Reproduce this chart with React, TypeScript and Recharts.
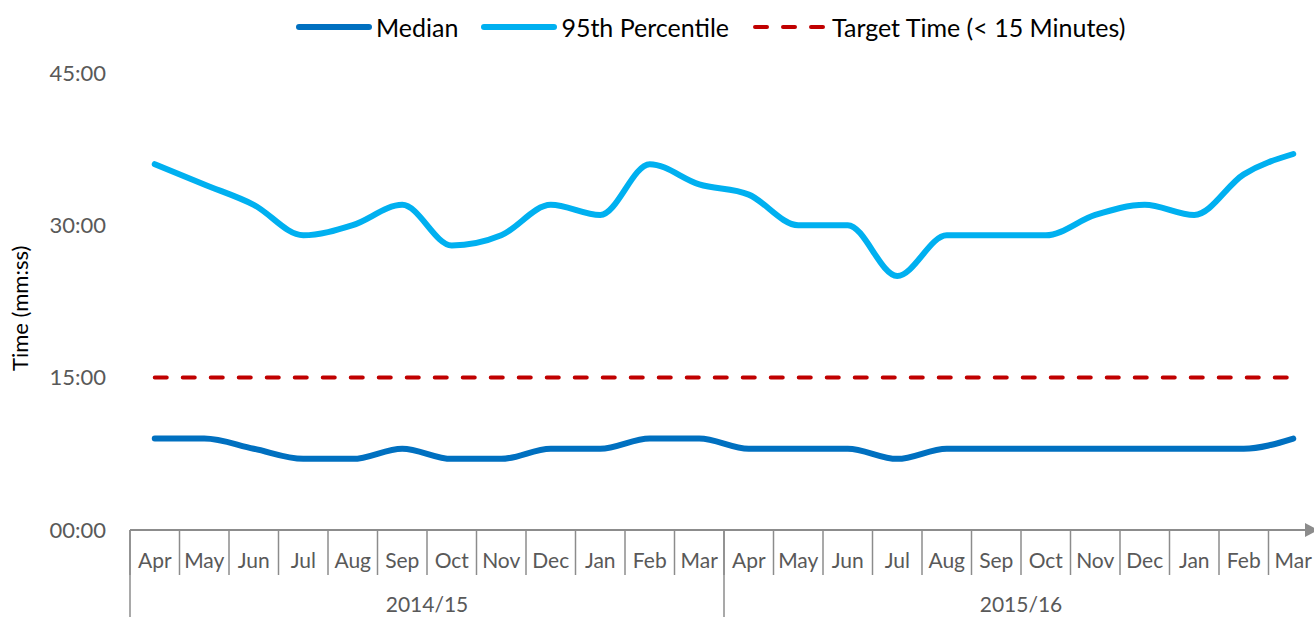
import React from 'react';
import { LineChart, Line, XAxis, YAxis, Legend } from 'recharts';

const months = ['Apr', 'May', 'Jun', 'Jul', 'Aug', 'Sep', 'Oct', 'Nov', 'Dec', 'Jan', 'Feb', 'Mar'];
const years = ['2014/15', '2015/16'];
const medianMinutes = [9, 9, 8, 7, 7, 8, 7, 7, 8, 8, 9, 9, 8, 8, 8, 7, 8, 8, 8, 8, 8, 8, 8, 9];
const p95Minutes = [36, 34, 32, 29, 30, 32, 28, 29, 32, 31, 36, 34, 33, 30, 30, 25, 29, 29, 29, 31, 32, 31, 35, 37];
const targetMinutes = 15;
const yTicks = [0, 15, 30, 45];
const seriesNames = ['Median', '95th Percentile', 'Target Time (< 15 Minutes)'];

const data = years.flatMap((year, yi) =>
  months.map((month, mi) => {
    const i = yi * months.length + mi;
    return { id: `${year}-${month}`, month, year, median: medianMinutes[i], p95: p95Minutes[i], target: targetMinutes };
  })
);

const FONT = 'Lato, "Open Sans", sans-serif';
const AXIS_GRAY = '#8c8c8c';
const TEXT_GRAY = '#595959';
const MONTH_AXIS_H = 48;
const YEAR_AXIS_H = 60;

const fmt = (v: number) => {
  const m = Math.floor(v);
  const s = Math.round((v - m) * 60);
  return `${String(m).padStart(2, '0')}:${String(s).padStart(2, '0')}`;
};

const MonthTick = (props: any) => {
  const { x, y, payload, index } = props;
  const w = props.width ?? 1188;
  const bw = w / data.length;
  const left = x - bw / 2;
  const entry = data.find((d) => d.id === payload.value);
  return (
    <g>
      {index === 0 && (
        <defs>
          <marker id="axisArrow" markerUnits="userSpaceOnUse" markerWidth={16} markerHeight={16} viewBox="0 0 16 16" refX={13} refY={7} orient="auto">
            <path d="M0,0 L13,7 L0,14 z" fill={AXIS_GRAY} />
          </marker>
        </defs>
      )}
      <line x1={left} x2={left} y1={y} y2={y + 45} stroke={AXIS_GRAY} strokeWidth={1.5} />
      {index === data.length - 1 && <line x1={x + bw / 2} x2={x + bw / 2} y1={y} y2={y + 45} stroke={AXIS_GRAY} strokeWidth={1.5} />}
      <text x={x} y={y + 38} textAnchor="middle" fill={TEXT_GRAY} fontSize={21} fontFamily={FONT}>
        {entry ? entry.month : payload.value}
      </text>
    </g>
  );
};

const YearTick = (props: any) => {
  const { x, y, payload } = props;
  const w = props.width ?? 1188;
  const bw = w / years.length;
  const left = x - bw / 2;
  return (
    <g>
      <line x1={left} x2={left} y1={y - MONTH_AXIS_H} y2={y + YEAR_AXIS_H} stroke={AXIS_GRAY} strokeWidth={1.5} />
      <text x={x} y={y + 34} textAnchor="middle" fill={TEXT_GRAY} fontSize={21} fontFamily={FONT}>
        {payload.value}
      </text>
    </g>
  );
};

const LegendContent = (props: any) => {
  const items = [...(props.payload || [])].sort(
    (a: any, b: any) => seriesNames.indexOf(a.value) - seriesNames.indexOf(b.value)
  );
  return (
    <div style={{ display: 'flex', alignItems: 'center', height: 30, fontFamily: FONT, fontSize: 25, color: '#000', whiteSpace: 'nowrap' }}>
      {items.map((it: any, i: number) => {
        const dashed = it.payload && it.payload.strokeDasharray;
        return (
          <div key={i} style={{ display: 'flex', alignItems: 'center', marginRight: 23 }}>
            <svg width={76} height={12} style={{ display: 'block' }}>
              <line
                x1={3}
                x2={73}
                y1={6}
                y2={6}
                stroke={it.color}
                strokeWidth={dashed ? 4 : 6}
                strokeLinecap="round"
                strokeDasharray={dashed ? '12 16' : undefined}
              />
            </svg>
            <span style={{ marginLeft: 4 }}>{it.value}</span>
          </div>
        );
      })}
    </div>
  );
};

const YLabel = (props: any) => {
  const vb = props.viewBox || { y: 72.7, height: 457.3 };
  const cx = 20;
  const cy = vb.y + vb.height / 2 + 7;
  return (
    <text x={cx} y={cy} transform={`rotate(-90, ${cx}, ${cy})`} textAnchor="middle" dominantBaseline="central" fill="#000" fontSize={22} fontFamily={FONT}>
      Time (mm:ss)
    </text>
  );
};

export default function App() {
  return (
    <div style={{ position: 'absolute', left: 0, top: 0, width: 1314, height: 617, overflow: 'hidden', background: '#fff' }}>
      <LineChart width={1328} height={638} data={data} margin={{ top: 42.7, right: 10, bottom: 0, left: 0 }}>
        <Legend
          verticalAlign="top"
          align="left"
          content={<LegendContent />}
          wrapperStyle={{ top: 12, left: 296, width: 900 }}
        />
        <XAxis
          xAxisId="month"
          dataKey="id"
          scale="band"
          interval={0}
          height={MONTH_AXIS_H}
          tickSize={0}
          tickMargin={0}
          tickLine={false}
          axisLine={{ stroke: AXIS_GRAY, strokeWidth: 2, markerEnd: 'url(#axisArrow)' }}
          tick={<MonthTick />}
        />
        <XAxis
          xAxisId="year"
          dataKey="year"
          scale="band"
          allowDuplicatedCategory={false}
          ticks={years}
          interval={0}
          height={YEAR_AXIS_H}
          tickSize={0}
          tickMargin={0}
          tickLine={false}
          axisLine={false}
          tick={<YearTick />}
        />
        <YAxis
          width={130}
          domain={[0, 45]}
          ticks={yTicks}
          tickFormatter={fmt}
          axisLine={false}
          tickLine={false}
          tickSize={0}
          tickMargin={24}
          tick={{ fill: TEXT_GRAY, fontSize: 22, fontFamily: FONT }}
          label={{ content: <YLabel /> }}
        />
        <Line
          xAxisId="month"
          type="monotone"
          dataKey="median"
          name={seriesNames[0]}
          stroke="#0070C0"
          strokeWidth={6}
          strokeLinecap="round"
          dot={false}
          activeDot={false}
          isAnimationActive={false}
        />
        <Line
          xAxisId="month"
          type="monotone"
          dataKey="p95"
          name={seriesNames[1]}
          stroke="#00B0F0"
          strokeWidth={6}
          strokeLinecap="round"
          dot={false}
          activeDot={false}
          isAnimationActive={false}
        />
        <Line
          xAxisId="month"
          type="linear"
          dataKey="target"
          name={seriesNames[2]}
          stroke="#C00000"
          strokeWidth={4}
          strokeLinecap="round"
          strokeDasharray="12 16"
          dot={false}
          activeDot={false}
          isAnimationActive={false}
        />
      </LineChart>
    </div>
  );
}
